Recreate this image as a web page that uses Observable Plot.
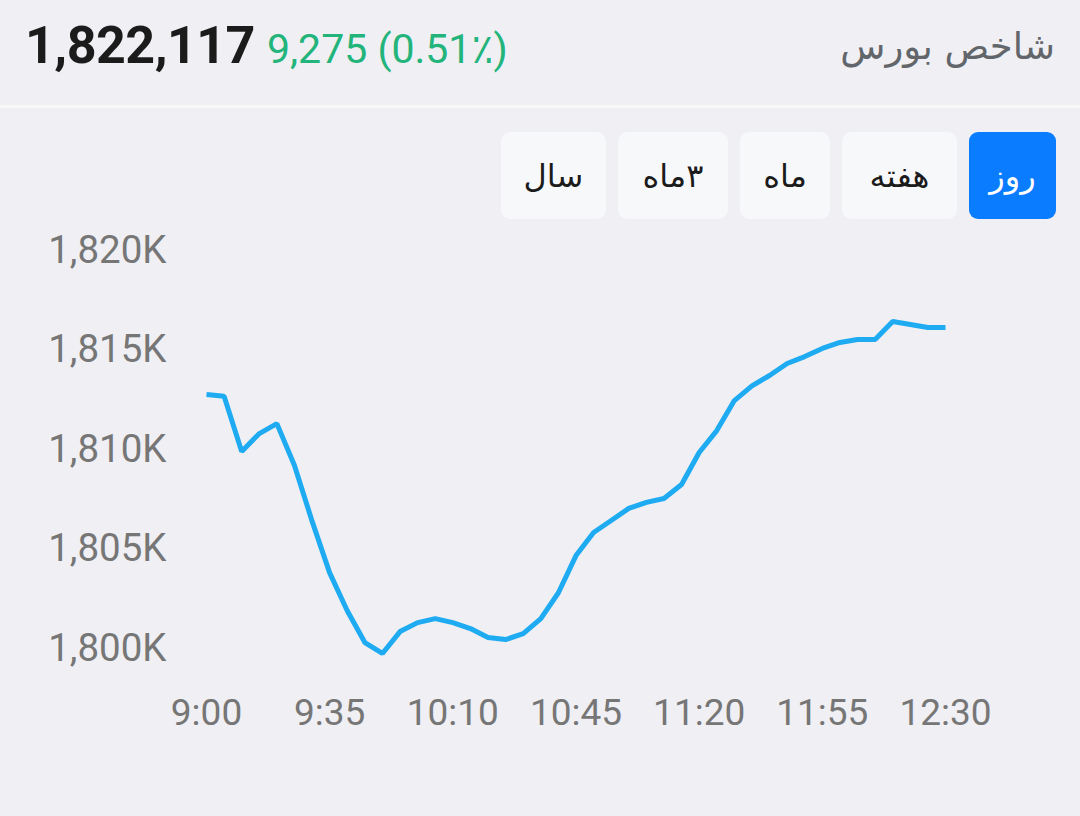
<!DOCTYPE html>
<html>
<head>
<meta charset="utf-8">
<script src="https://cdn.jsdelivr.net/npm/d3@7"></script>
<script src="https://cdn.jsdelivr.net/npm/@observablehq/plot@0.6"></script>
<style>
  html, body { margin: 0; padding: 0; }
  body { width: 1080px; height: 816px; background: #efeff4; position: relative; overflow: hidden; font-family: Roboto, "DejaVu Sans", sans-serif; }
  .price { position: absolute; left: 25px; top: 15px; font-size: 52px; font-weight: 700; color: #1b1b1b; letter-spacing: -0.5px; }
  .change { position: absolute; left: 267px; top: 25px; font-size: 41px; color: #22b47a; }
  .title { position: absolute; right: 25px; top: 25px; font-size: 37px; color: #62666b; font-family: "DejaVu Sans", sans-serif; direction: rtl; }
  .divider { position: absolute; left: 0; top: 105px; width: 1080px; height: 3px; background: #f8f8f8; }
  .btns { position: absolute; right: 24px; top: 132px; display: flex; flex-direction: row-reverse; gap: 12px; }
  .btn { height: 87px; border-radius: 9px; background: #f7f8fa; color: #1b1b1b; font-size: 32px; display: flex; align-items: center; justify-content: center; font-family: "DejaVu Sans", sans-serif; direction: rtl; }
  .btn.active { background: #0a7cff; color: #ffffff; }
  #chart { position: absolute; left: 0; top: 220px; }
</style>
</head>
<body>
<div class="price">1,822,117</div>
<div class="change">9,275 (0.51٪)</div>
<div class="title">شاخص بورس</div>
<div class="divider"></div>
<div class="btns" id="btns"></div>
<div id="chart"></div>
<script>
// Intraday index values (5-minute steps)
const times = ["9:00","9:05","9:10","9:15","9:20","9:25","9:30","9:35","9:40","9:45",
  "9:50","9:55","10:00","10:05","10:10","10:15","10:20","10:25","10:30","10:35",
  "10:40","10:45","10:50","10:55","11:00","11:05","11:10","11:15","11:20","11:25",
  "11:30","11:35","11:40","11:45","11:50","11:55","12:00","12:05","12:10","12:15",
  "12:20","12:25","12:30"];
const values = [1812760,1812680,1809900,1810800,1811300,1809200,1806400,1803800,1801900,1800300,
  1799750,1800850,1801300,1801500,1801300,1801000,1800550,1800450,1800750,1801500,
  1802800,1804670,1805830,1806430,1807040,1807340,1807540,1808240,1809850,1810950,
  1812460,1813200,1813720,1814320,1814670,1815080,1815380,1815530,1815530,1816430,
  1816280,1816130,1816130];
const xTickLabels = ["9:00","9:35","10:10","10:45","11:20","11:55","12:30"];
const yTicks = [1800000,1805000,1810000,1815000,1820000];
const buttons = ["روز","هفته","ماه","۳ماه","سال"];
const buttonWidths = [87,115,90,110,105];

const toMin = s => { const [h,m] = s.split(":").map(Number); return h*60+m; };
const data = times.map((t,i) => ({t: toMin(t), v: values[i]}));
const labelByMin = new Map(xTickLabels.map(s => [toMin(s), s]));

const btnWrap = document.getElementById("btns");
buttons.forEach((b,i) => {
  const d = document.createElement("div");
  d.className = "btn" + (i === 0 ? " active" : "");
  d.style.width = buttonWidths[i] + "px";
  d.textContent = b;
  btnWrap.appendChild(d);
});

const chart = Plot.plot({
  width: 1080,
  height: 560,
  marginLeft: 206,
  marginRight: 135,
  marginTop: 30,
  marginBottom: 132,
  style: { background: "transparent", fontFamily: "Roboto, sans-serif" },
  x: { domain: [toMin("9:00"), toMin("12:30")] },
  y: { domain: [1800000, 1820000] },
  marks: [
    Plot.axisY({ ticks: yTicks, tickFormat: d => d3.format(",")(d/1000) + "K", tickSize: 0, tickPadding: 40, fontSize: 38.5, fill: "#767676", label: null }),
    Plot.axisX({ ticks: xTickLabels.map(toMin), tickFormat: d => labelByMin.get(d), tickSize: 0, tickPadding: 50, fontSize: 37, fill: "#767676", label: null }),
    Plot.line(data, { x: "t", y: "v", stroke: "#1eabf1", strokeWidth: 5, strokeLinejoin: "miter", strokeLinecap: "butt" })
  ]
});
document.getElementById("chart").appendChild(chart);
</script>
</body>
</html>
